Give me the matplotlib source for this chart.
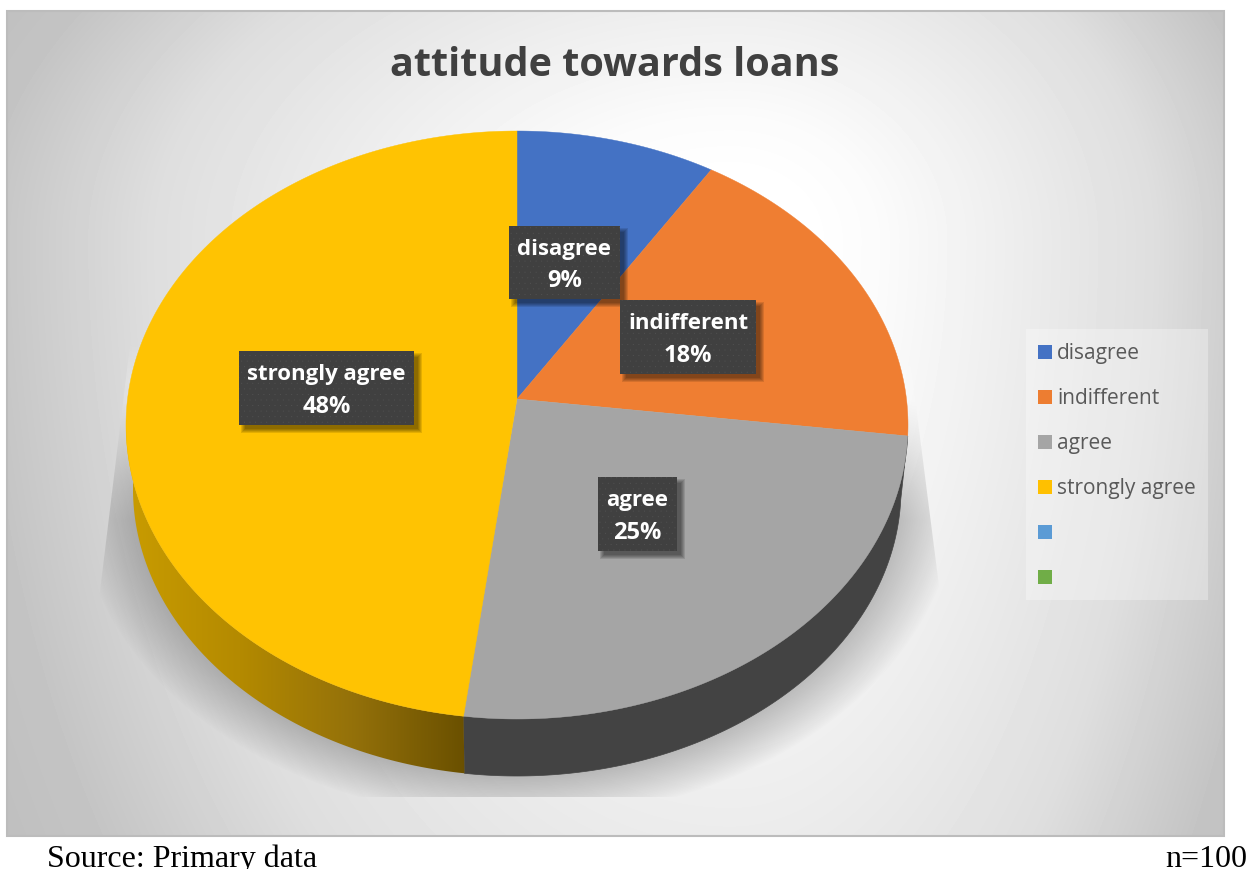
"""Pseudo-3D pie of attitude towards loans, drawn on a full-figure pixel axes."""
import numpy as np
import matplotlib
matplotlib.use("Agg")
import matplotlib.pyplot as plt
from matplotlib.colors import LinearSegmentedColormap
from matplotlib.patches import Polygon, Rectangle

categories = ["disagree", "indifferent", "agree", "strongly agree"]
shares = [9, 18, 25, 48]
slice_colors = ["#4472C4", "#EF7E32", "#A5A5A5", "#FFC302"]
legend_labels = ["disagree", "indifferent", "agree", "strongly agree", "", ""]
legend_colors = ["#4472C4", "#ED7D31", "#A5A5A5", "#FFC000", "#5B9BD5", "#70AD47"]
title = "attitude towards loans"
source_note = "Source: Primary data"
sample_note = "n=100"

W, H = 1250, 870
CHART = (7, 11, 1224, 836)
TILT = 0.0884

# ellipse centre x/y and radii of the top face and of the lower rim
TOP_DISC = (517, 425, 391, 294)
LOW_DISC = (517, 489, 384, 287)

# left, top, right, bottom of each value label
LABEL_BOXES = {
    "disagree": (509, 226, 620, 299),
    "indifferent": (620, 300, 756, 374),
    "agree": (598, 477, 677, 551),
    "strongly agree": (239, 351, 414, 425),
}


def disc_point(disc, share):
    """Map a cumulative share (0-100, clockwise from 12 o'clock) onto a tilted disc."""
    cx, cy, rx, ry = disc
    theta = np.radians(np.asarray(share, dtype=float) * 3.6)
    sx, sy = np.sin(theta), np.cos(theta)
    w = 1 + TILT * sy
    apex_y = cy - ry * TILT
    return (cx + rx * np.sqrt(1 - TILT**2) * sx / w,
            apex_y - ry * (1 - TILT**2) * sy / w)


def disc_apex(disc):
    return disc[0], disc[1] - disc[3] * TILT


def draw_background(ax):
    x0, y0, x1, y1 = CHART
    xx, yy = np.meshgrid(np.arange(x0, x1), np.arange(y0, y1))
    # off-centre glow, falling away faster to the right and towards the top
    u = np.where(xx < 730, (xx - 730) / 680, (xx - 730) / 500)
    v = np.where(yy < 240, (yy - 240) / 420, (yy - 240) / 1000)
    t = np.hypot(u, v)
    grey = np.interp(t, [0, 0.15, 0.3, 0.55, 0.85, 1.1, 1.3],
                     [255, 255, 251, 238, 222, 196, 188])
    ax.imshow(grey, cmap="gray", vmin=0, vmax=255, extent=(x0, x1, y1, y0),
              aspect="auto", zorder=1, interpolation="bilinear")
    ax.add_patch(Rectangle((x0, y0), x1 - x0, y1 - y0, fill=False,
                           ec="#bcbcbc", lw=1.5, zorder=2))


def draw_ground_shadow(ax):
    cx, cy, rx, ry = LOW_DISC
    xx, yy = np.meshgrid(np.arange(60, 980), np.arange(320, 797))
    r = np.hypot((xx - cx) / rx, (yy - cy) / ry)

    dark = np.clip(1 - (r - 1) / 0.15, 0, 1) ** 0.9
    dark = 0.32 * dark * np.clip((yy - 400) / 120, 0, 1)
    glow = 0.2 * np.clip((480 - yy) / 100, 0, 1) * np.clip((yy - 340) / 40, 0, 1)

    # dark falloff low down, faint lighter sheet high up
    alpha = dark + glow * (1 - dark)
    level = (0.28 * dark + 1.0 * glow * (1 - dark)) / np.maximum(alpha, 1e-6)
    rgba = np.zeros(xx.shape + (4,))
    rgba[..., :3] = level[..., None]
    rgba[..., 3] = alpha

    img = ax.imshow(rgba, extent=(60, 980, 797, 320), aspect="auto", zorder=3)
    clip = Polygon([(133, 320), (905, 320), (966, 797), (75, 797)],
                   closed=True, transform=ax.transData, fill=False, lw=0)
    ax.add_patch(clip)
    img.set_clip_path(clip)


def draw_side_wall(ax):
    edges = np.cumsum([0] + shares)
    side_cmap = LinearSegmentedColormap.from_list(
        "gold_side", ["#C99C00", "#B48A00", "#94710A", "#6A5000"])
    side_colors = [None, None, "#434343", "gold"]
    for i in (2, 3):
        s = np.linspace(edges[i], edges[i + 1], 200)
        tx, ty = disc_point(TOP_DISC, s)
        lx, ly = disc_point(LOW_DISC, s)
        pts = np.r_[np.c_[tx, ty], np.c_[lx, ly][::-1]]
        if side_colors[i] == "gold":
            patch = Polygon(pts, closed=True, fc="none", ec="none")
            ax.add_patch(patch)
            ramp = np.linspace(0, 1, 256).reshape(1, -1)
            img = ax.imshow(ramp, cmap=side_cmap, aspect="auto", zorder=4,
                            extent=(126, 466, 780, 420))
            img.set_clip_path(patch)
        else:
            ax.add_patch(Polygon(pts, closed=True, fc=side_colors[i],
                                 ec=side_colors[i], lw=0.5, zorder=4))


def draw_top_face(ax):
    edges = np.cumsum([0] + shares)
    apex = disc_apex(TOP_DISC)
    for i, color in enumerate(slice_colors):
        s = np.linspace(edges[i], edges[i + 1], 240)
        px, py = disc_point(TOP_DISC, s)
        pts = np.r_[[apex], np.c_[px, py]]
        ax.add_patch(Polygon(pts, closed=True, fc=color, ec=color, lw=0.3, zorder=5))


def draw_value_labels(ax):
    for name, share in zip(categories, shares):
        x0, y0, x1, y1 = LABEL_BOXES[name]
        w, h = x1 - x0, y1 - y0
        # soft drop shadow built from nested translucent rectangles
        for grow in range(5):
            ax.add_patch(Rectangle((x0 + 5 - grow + 1, y0 + 5 - grow + 1),
                                   w + 2 * grow - 2, h + 2 * grow - 2,
                                   fc="black", ec="none", alpha=0.11, zorder=6))
        ax.add_patch(Rectangle((x0, y0), w, h, fc="#404040", ec="#525252",
                               hatch="...", lw=0, zorder=7))
        ax.text((x0 + x1) / 2, y0 + h * 0.31, name, ha="center", va="center",
                color="white", fontsize=16, fontweight="bold", zorder=8)
        ax.text((x0 + x1) / 2, y0 + h * 0.74, f"{share}%", ha="center", va="center",
                color="white", fontsize=17, fontweight="bold", zorder=8)


def draw_legend(ax):
    ax.add_patch(Rectangle((1026, 329), 182, 271, fc="white", ec="none",
                           alpha=0.3, zorder=6))
    for i, (label, color) in enumerate(zip(legend_labels, legend_colors)):
        y = 345 + 45 * i
        ax.add_patch(Rectangle((1038, y), 14, 14, fc=color, ec="none", zorder=7))
        if label:
            ax.text(1057, y + 8, label, ha="left", va="center", color="#595959",
                    fontsize=15, zorder=7)


plt.rcParams["font.family"] = ["Open Sans", "DejaVu Sans"]
plt.rcParams["hatch.linewidth"] = 0

fig = plt.figure(figsize=(W / 100, H / 100), dpi=100, facecolor="white")
ax = fig.add_axes([0, 0, 1, 1])

draw_background(ax)
draw_ground_shadow(ax)
draw_side_wall(ax)
draw_top_face(ax)
draw_value_labels(ax)
draw_legend(ax)

ax.text(615, 64, title, ha="center", va="center", color="#404040",
        fontsize=28.5, fontweight="bold", zorder=8)
ax.text(47, 866, source_note, ha="left", va="baseline", color="black",
        fontsize=23, family=["Liberation Serif"], zorder=8)
ax.text(1247, 866, sample_note, ha="right", va="baseline", color="black",
        fontsize=23, family=["Liberation Serif"], zorder=8)

ax.set_xlim(0, W)
ax.set_ylim(H - 1, -1)
ax.axis("off")

fig.savefig("out.png", dpi=100, facecolor="white")
plt.close(fig)
